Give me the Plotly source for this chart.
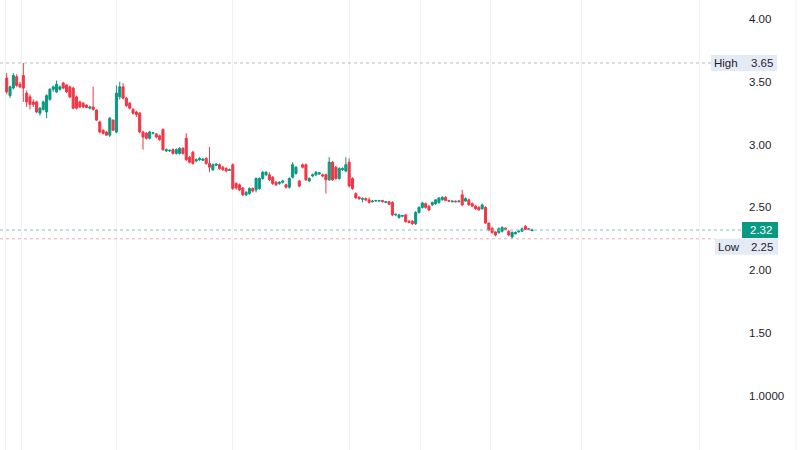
import plotly.graph_objects as go

# ---- data ----
opens = [3.53, 3.39, 3.45, 3.54, 3.48, 3.55, 3.41, 3.38, 3.34, 3.34,
         3.25, 3.28, 3.26, 3.36, 3.44, 3.42, 3.44, 3.49, 3.475, 3.46,
         3.45, 3.38, 3.34, 3.33, 3.315, 3.29, 3.30, 3.275, 3.18, 3.115,
         3.10, 3.075, 3.195, 3.10, 3.38, 3.46, 3.37, 3.33, 3.28, 3.26,
         3.25, 3.10, 3.09, 3.05, 3.09, 3.085, 3.07, 3.12, 2.95, 2.95,
         2.96, 2.93, 2.93, 2.97, 3.05, 2.90, 2.94, 2.87, 2.88, 2.875,
         2.89, 2.85, 2.80, 2.835, 2.84, 2.82, 2.81, 2.795, 2.84, 2.69,
         2.68, 2.655, 2.60, 2.61, 2.65, 2.64, 2.65, 2.73, 2.76, 2.76,
         2.74, 2.70, 2.69, 2.70, 2.68, 2.66, 2.74, 2.77, 2.71, 2.84,
         2.84, 2.71, 2.75, 2.76, 2.765, 2.76, 2.76, 2.72, 2.86, 2.82,
         2.73, 2.80, 2.79, 2.86, 2.73, 2.61, 2.58, 2.565, 2.57, 2.56,
         2.545, 2.55, 2.55, 2.555, 2.54, 2.545, 2.54, 2.44, 2.42, 2.43,
         2.44, 2.39, 2.39, 2.37, 2.46, 2.50, 2.53, 2.51, 2.52, 2.53,
         2.54, 2.56, 2.58, 2.555, 2.545, 2.55, 2.545, 2.60, 2.55, 2.56,
         2.53, 2.51, 2.50, 2.49, 2.50, 2.375, 2.335, 2.305, 2.30, 2.31,
         2.335, 2.31, 2.265, 2.29, 2.305, 2.31, 2.35, 2.33, 2.315]
highs = [3.57, 3.47, 3.57, 3.56, 3.50, 3.65, 3.43, 3.40, 3.36, 3.35,
         3.30, 3.35, 3.40, 3.45, 3.47, 3.51, 3.47, 3.50, 3.48, 3.47,
         3.46, 3.39, 3.35, 3.34, 3.32, 3.31, 3.46, 3.28, 3.19, 3.12,
         3.11, 3.22, 3.20, 3.47, 3.50, 3.49, 3.38, 3.34, 3.29, 3.27,
         3.26, 3.11, 3.10, 3.11, 3.10, 3.09, 3.08, 3.13, 2.97, 2.96,
         2.97, 2.97, 2.98, 2.98, 3.09, 2.91, 2.95, 2.89, 2.90, 2.89,
         2.90, 2.98, 2.85, 2.85, 2.85, 2.83, 2.82, 2.81, 2.85, 2.70,
         2.69, 2.66, 2.63, 2.66, 2.66, 2.74, 2.74, 2.79, 2.79, 2.78,
         2.75, 2.71, 2.71, 2.72, 2.69, 2.74, 2.86, 2.83, 2.72, 2.85,
         2.85, 2.74, 2.77, 2.79, 2.78, 2.77, 2.77, 2.90, 2.87, 2.83,
         2.82, 2.82, 2.90, 2.89, 2.74, 2.62, 2.59, 2.58, 2.58, 2.58,
         2.56, 2.56, 2.56, 2.56, 2.55, 2.55, 2.55, 2.45, 2.45, 2.44,
         2.45, 2.40, 2.40, 2.47, 2.51, 2.545, 2.54, 2.52, 2.545, 2.565,
         2.58, 2.59, 2.59, 2.56, 2.555, 2.555, 2.56, 2.64, 2.58, 2.57,
         2.54, 2.52, 2.51, 2.53, 2.51, 2.38, 2.34, 2.31, 2.34, 2.35,
         2.34, 2.32, 2.31, 2.31, 2.32, 2.34, 2.36, 2.335, 2.33]
lows = [3.40, 3.37, 3.44, 3.46, 3.45, 3.34, 3.30, 3.28, 3.30, 3.25,
        3.23, 3.27, 3.21, 3.35, 3.42, 3.41, 3.43, 3.44, 3.41, 3.37,
        3.28, 3.28, 3.29, 3.29, 3.29, 3.28, 3.27, 3.19, 3.09, 3.08,
        3.07, 3.06, 3.11, 3.09, 3.36, 3.36, 3.30, 3.28, 3.24, 3.22,
        3.09, 2.96, 3.04, 3.04, 3.08, 3.05, 3.03, 2.95, 2.94, 2.94,
        2.92, 2.92, 2.92, 2.92, 2.87, 2.85, 2.84, 2.86, 2.87, 2.87,
        2.84, 2.78, 2.79, 2.83, 2.80, 2.79, 2.78, 2.79, 2.64, 2.64,
        2.63, 2.59, 2.59, 2.60, 2.62, 2.62, 2.64, 2.72, 2.75, 2.71,
        2.68, 2.67, 2.68, 2.69, 2.65, 2.65, 2.73, 2.76, 2.66, 2.81,
        2.71, 2.70, 2.74, 2.75, 2.76, 2.74, 2.61, 2.71, 2.71, 2.72,
        2.72, 2.79, 2.78, 2.66, 2.64, 2.57, 2.56, 2.54, 2.55, 2.53,
        2.54, 2.545, 2.545, 2.54, 2.535, 2.52, 2.43, 2.43, 2.41, 2.42,
        2.38, 2.375, 2.36, 2.36, 2.45, 2.49, 2.49, 2.47, 2.51, 2.52,
        2.53, 2.555, 2.55, 2.545, 2.54, 2.54, 2.54, 2.51, 2.545, 2.515,
        2.50, 2.48, 2.475, 2.48, 2.37, 2.31, 2.29, 2.27, 2.29, 2.30,
        2.32, 2.27, 2.25, 2.285, 2.30, 2.305, 2.32, 2.32, 2.31]
closes = [3.42, 3.46, 3.55, 3.47, 3.46, 3.45, 3.34, 3.32, 3.32, 3.26,
          3.29, 3.34, 3.39, 3.44, 3.46, 3.48, 3.46, 3.45, 3.42, 3.38,
          3.29, 3.29, 3.30, 3.30, 3.295, 3.30, 3.28, 3.195, 3.10, 3.09,
          3.075, 3.21, 3.115, 3.41, 3.46, 3.37, 3.31, 3.29, 3.25, 3.24,
          3.10, 3.06, 3.05, 3.10, 3.095, 3.06, 3.04, 2.96, 2.96, 2.955,
          2.93, 2.96, 2.97, 2.93, 2.88, 2.86, 2.85, 2.88, 2.89, 2.885,
          2.85, 2.82, 2.84, 2.845, 2.81, 2.80, 2.79, 2.80, 2.65, 2.655,
          2.64, 2.60, 2.62, 2.65, 2.63, 2.73, 2.73, 2.78, 2.78, 2.72,
          2.69, 2.68, 2.70, 2.71, 2.66, 2.73, 2.84, 2.82, 2.67, 2.82,
          2.72, 2.73, 2.76, 2.78, 2.775, 2.75, 2.72, 2.86, 2.72, 2.73,
          2.81, 2.81, 2.84, 2.67, 2.65, 2.575, 2.57, 2.57, 2.56, 2.54,
          2.55, 2.555, 2.555, 2.545, 2.545, 2.525, 2.44, 2.445, 2.44, 2.435,
          2.385, 2.38, 2.37, 2.46, 2.50, 2.535, 2.50, 2.48, 2.54, 2.56,
          2.575, 2.58, 2.555, 2.55, 2.55, 2.545, 2.55, 2.52, 2.57, 2.52,
          2.51, 2.49, 2.48, 2.52, 2.375, 2.32, 2.30, 2.28, 2.33, 2.34,
          2.325, 2.28, 2.30, 2.30, 2.31, 2.33, 2.325, 2.325, 2.32]

y_tick_vals = [1.0, 1.5, 2.0, 2.5, 3.0, 3.5, 4.0]
y_tick_text = ["1.0000", "1.50", "2.00", "2.50", "3.00", "3.50", "4.00"]
grid_idx = [-0.5, 4.5, 33, 68, 103, 124.5, 145.5, 173, 208.5]

# ---- layout constants ----
W, H = 800, 450
PLOT_W = 748
Y_MIN, Y_MAX = 0.5685, 4.1513
X_MIN, X_MAX = -2.015, 222.95
PPP = H / (Y_MAX - Y_MIN)  # pixels per price unit
UP = "#089981"
DOWN = "#F23645"
TXT = "#1e222d"
GRID = "#f0f2f6"
FONT = "Liberation Sans, Arial, sans-serif"

x = list(range(len(opens)))
hi_val = max(highs)
lo_val = min(lows)
last_val = closes[-1]

fig = go.Figure(go.Candlestick(
    x=x, open=opens, high=highs, low=lows, close=closes,
    increasing=dict(line=dict(color=UP, width=1), fillcolor=UP),
    decreasing=dict(line=dict(color=DOWN, width=1), fillcolor=DOWN),
    hoverinfo="skip", showlegend=False,
))


def px(v):
    return v / PLOT_W


def dy(pixels):
    return pixels / PPP


shapes = []
annotations = []


def label(x_px, y_val, text, color=TXT):
    annotations.append(dict(xref="paper", yref="y", x=px(x_px), y=y_val, text=text,
                            xanchor="center", yanchor="middle", showarrow=False,
                            font=dict(size=11.5, color=color, family=FONT)))


# horizontal dotted reference lines
shapes.append(dict(type="line", xref="paper", yref="y", x0=0, x1=px(711),
                   y0=hi_val, y1=hi_val, line=dict(color="#b8bcc6", width=1, dash="dot")))
shapes.append(dict(type="line", xref="paper", yref="y", x0=0, x1=px(742),
                   y0=last_val, y1=last_val, line=dict(color="#7cc4b8", width=1, dash="dot")))
shapes.append(dict(type="line", xref="paper", yref="y", x0=0, x1=px(715),
                   y0=lo_val, y1=lo_val, line=dict(color="#eeaab1", width=1, dash="dot")))

# far right faint border line
shapes.append(dict(type="line", xref="paper", yref="paper", x0=px(796), x1=px(796),
                   y0=0, y1=1, line=dict(color=GRID, width=1)))

# High label box
shapes.append(dict(type="rect", xref="paper", yref="y", x0=px(711), x1=px(777),
                   y0=hi_val - dy(8), y1=hi_val + dy(8), fillcolor="#e4ebf7",
                   line=dict(width=0), layer="above"))
label(726, hi_val, "High")
label(762, hi_val, f"{hi_val:.2f}")

# Last price box
shapes.append(dict(type="rect", xref="paper", yref="y", x0=px(742), x1=px(778),
                   y0=last_val - dy(8), y1=last_val + dy(8), fillcolor=UP,
                   line=dict(width=0), layer="above"))
label(761, last_val, f"{last_val:.2f}", "white")

# Low label box (pushed down to avoid overlapping the last price box)
lo_c = lo_val - dy(8)
shapes.append(dict(type="rect", xref="paper", yref="y", x0=px(715), x1=px(778),
                   y0=lo_c - dy(8), y1=lo_c + dy(8), fillcolor="#e4ebf7",
                   line=dict(width=0), layer="above"))
label(729, lo_c, "Low")
label(762, lo_c, f"{lo_val:.2f}")

fig.update_layout(
    width=W, height=H,
    margin=dict(l=0, r=W - PLOT_W, t=0, b=0),
    paper_bgcolor="white", plot_bgcolor="white",
    font=dict(family=FONT, color=TXT, size=11.5),
    shapes=shapes, annotations=annotations,
    hovermode=False,
    boxgap=0.12,
    xaxis=dict(range=[X_MIN, X_MAX], tickvals=grid_idx, showticklabels=False,
               showgrid=True, gridcolor=GRID, gridwidth=1, zeroline=False,
               showline=False, ticks="", rangeslider=dict(visible=False), fixedrange=True),
    yaxis=dict(range=[Y_MIN, Y_MAX], side="right", tickvals=y_tick_vals, ticktext=y_tick_text,
               showgrid=False, zeroline=False, showline=False, ticks="",
               tickfont=dict(size=11.5, color=TXT, family=FONT), fixedrange=True),
)

fig.write_html("out.html", config={"displayModeBar": False},
               post_script="document.body.style.margin='0';document.body.style.overflow='hidden';")
